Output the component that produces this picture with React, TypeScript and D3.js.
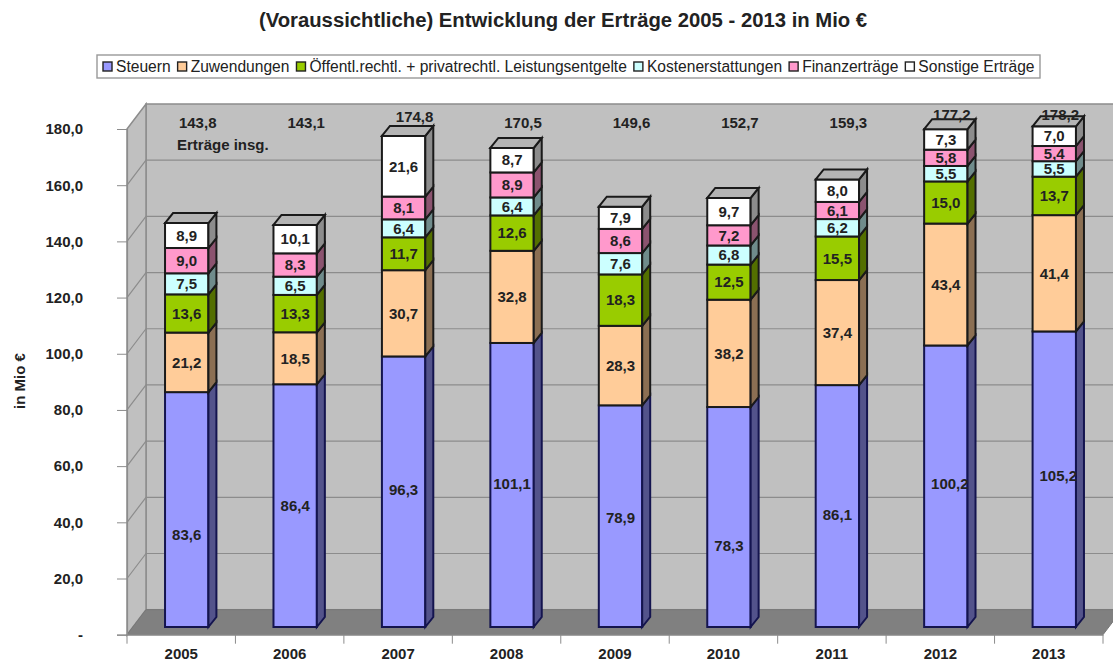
import React, { useEffect, useRef } from 'react';
import * as d3 from 'd3';

const TITLE = '(Voraussichtliche) Entwicklung der Erträge 2005 - 2013 in Mio €';
const YEARS = ['2005', '2006', '2007', '2008', '2009', '2010', '2011', '2012', '2013'];
const TOTALS = [143.8, 143.1, 174.8, 170.5, 149.6, 152.7, 159.3, 177.2, 178.2];

const SERIES_NAMES = [
  'Steuern',
  'Zuwendungen',
  'Öffentl.rechtl. + privatrechtl. Leistungsentgelte',
  'Kostenerstattungen',
  'Finanzerträge',
  'Sonstige Erträge',
];
const STEUERN = [83.6, 86.4, 96.3, 101.1, 78.9, 78.3, 86.1, 100.2, 105.2];
const ZUWENDUNGEN = [21.2, 18.5, 30.7, 32.8, 28.3, 38.2, 37.4, 43.4, 41.4];
const LEISTUNGEN = [13.6, 13.3, 11.7, 12.6, 18.3, 12.5, 15.5, 15.0, 13.7];
const KOSTEN = [7.5, 6.5, 6.4, 6.4, 7.6, 6.8, 6.2, 5.5, 5.5];
const FINANZ = [9.0, 8.3, 8.1, 8.9, 8.6, 7.2, 6.1, 5.8, 5.4];
const SONSTIGE = [8.9, 10.1, 21.6, 8.7, 7.9, 9.7, 8.0, 7.3, 7.0];
const ALL_SERIES = [STEUERN, ZUWENDUNGEN, LEISTUNGEN, KOSTEN, FINANZ, SONSTIGE];

const COLORS = ['#9999ff', '#ffcc99', '#99cc00', '#ccffff', '#ff99cc', '#ffffff'];
const STROKES = ['#14144f', '#1a1a1a', '#1a1a1a', '#1a1a1a', '#1a1a1a', '#1a1a1a'];

// the Steuern labels sit wherever somebody dragged them, value height
const STEUERN_LABEL_AT = [33, 43, 49, 51, 39, 29, 40, 51, 54];

const WIDTH = 1113;
const HEIGHT = 664;
const FONT = '"Liberation Sans", Arial, sans-serif';
const WALL_DX = 19;
const WALL_DY = -25;
const BAR_DX = 8;
const BAR_DY = -10;
const BAR_SHIFT_X = 5.5;
const BAR_SHIFT_Y = -7.7;

const fmt = (v: number) => v.toFixed(1).replace('.', ',');

export default function App() {
  const ref = useRef<SVGSVGElement>(null);

  useEffect(() => {
    const svg = d3.select(ref.current);
    svg.selectAll('*').remove();

    const x = d3.scaleBand().domain(YEARS).range([127, 1103]);
    const y = d3.scaleLinear().domain([0, 180]).range([634.7, 129]);
    const yTop = y(180);
    const y0 = y(0);
    const xL = 127;
    const xR = 1103;

    // back wall, side wall, floor
    const plot = svg.append('g');
    plot.append('rect')
      .attr('x', xL + WALL_DX).attr('y', yTop + WALL_DY)
      .attr('width', xR - xL).attr('height', y0 - yTop)
      .attr('fill', '#c0c0c0').attr('stroke', '#8c8c8c').attr('stroke-width', 1.5);
    plot.append('path')
      .attr('d', `M${xL},${yTop}L${xL + WALL_DX},${yTop + WALL_DY}V${y0 + WALL_DY}L${xL},${y0}Z`)
      .attr('fill', '#c0c0c0').attr('stroke', '#8c8c8c').attr('stroke-width', 1.5);

    const grid = y.ticks(9);
    plot.selectAll('path.grid').data(grid.filter((d) => d > 0 && d < 180)).join('path')
      .attr('class', 'grid')
      .attr('d', (d) => `M${xL},${y(d)}L${xL + WALL_DX},${y(d) + WALL_DY}H${xR + WALL_DX}`)
      .attr('fill', 'none').attr('stroke', '#8c8c8c').attr('stroke-width', 1.2);

    plot.append('path')
      .attr('d', `M${xL},${y0}L${xL + WALL_DX},${y0 + WALL_DY}H${xR + WALL_DX}L${xR},${y0}Z`)
      .attr('fill', '#808080').attr('stroke', '#777');

    // axes
    const yAxis = d3.axisLeft(y)
      .tickValues(grid)
      .tickSize(10)
      .tickPadding(34)
      .tickFormat((d) => (+d === 0 ? '-' : fmt(+d)));
    const gy = svg.append('g').attr('transform', `translate(${xL},0)`).call(yAxis);
    const xAxis = d3.axisBottom(x).tickSize(0).tickPadding(14);
    const gx = svg.append('g').attr('transform', `translate(0,${y0})`).call(xAxis);
    gx.selectAll('line.sep').data(d3.range(YEARS.length + 1)).join('line')
      .attr('class', 'sep')
      .attr('x1', (i) => xL + i * x.step()).attr('x2', (i) => xL + i * x.step())
      .attr('y1', 0).attr('y2', 9)
      .attr('stroke', '#8c8c8c');
    for (const g of [gy, gx]) {
      g.select('.domain').attr('stroke', '#8c8c8c').attr('stroke-width', 1.2);
      g.selectAll('.tick line').attr('stroke', '#8c8c8c');
      g.selectAll('text')
        .attr('font-family', FONT).attr('font-size', 15)
        .attr('font-weight', 'bold').attr('fill', '#222');
    }

    // stacked 3d bars
    const rows = YEARS.map((year, i) => {
      const row: Record<string, number | string> = { year };
      SERIES_NAMES.forEach((n, s) => { row[n] = ALL_SERIES[s][i]; });
      return row;
    });
    const stacked = d3.stack<any>().keys(SERIES_NAMES)(rows);
    const barX = d3.scaleBand().domain(YEARS).range([127, 1103]).paddingInner(0.6).paddingOuter(0.3);
    const bw = barX.bandwidth();
    const px = (year: string) => (x(year) as number) + (x.bandwidth() - bw) / 2 + BAR_SHIFT_X;
    const py = (v: number) => y(v) + BAR_SHIFT_Y;

    stacked.forEach((layer, s) => {
      const g = svg.append('g');
      const color = d3.color(COLORS[s]) as d3.RGBColor;
      const side = s === 5 ? '#8c8c8c' : color.darker(1.7).toString();
      const top = '#b4b4b4';
      layer.forEach((d: any) => {
        const year = d.data.year as string;
        const x0 = px(year);
        const a = py(d[0]);
        const b = py(d[1]);
        g.append('rect')
          .attr('x', x0).attr('y', b).attr('width', bw).attr('height', a - b)
          .attr('fill', COLORS[s]).attr('stroke', STROKES[s]).attr('stroke-width', 2);
        g.append('path')
          .attr('d', `M${x0 + bw},${a}V${b}l${BAR_DX},${BAR_DY}V${a + BAR_DY}Z`)
          .attr('fill', side).attr('stroke', STROKES[s]).attr('stroke-width', 2);
        if (s === SERIES_NAMES.length - 1) {
          g.append('path')
            .attr('d', `M${x0},${b}l${BAR_DX},${BAR_DY}h${bw}l${-BAR_DX},${-BAR_DY}Z`)
            .attr('fill', top).attr('stroke', STROKES[s]).attr('stroke-width', 2);
        }
      });
    });

    // value labels
    const labels = svg.append('g')
      .attr('font-family', FONT).attr('font-size', 15).attr('font-weight', 'bold')
      .attr('fill', '#222').attr('text-anchor', 'middle');
    stacked.forEach((layer, s) => {
      layer.forEach((d: any, i: number) => {
        const mid = s === 0 ? STEUERN_LABEL_AT[i] : (d[0] + d[1]) / 2;
        labels.append('text')
          .attr('x', px(d.data.year) + bw / 2 + (s === 0 && i >= 7 ? 4 : 0))
          .attr('y', py(mid))
          .attr('dy', '0.35em')
          .text(fmt(ALL_SERIES[s][i]));
      });
    });

    // totals above the plot
    labels.selectAll('text.total').data(TOTALS).join('text')
      .attr('class', 'total')
      .attr('x', (_, i) => px(YEARS[i]) + bw / 2 + (i >= 7 ? 6 : 11))
      .attr('y', (_, i) => (i >= 7 ? 115 : i === 2 ? 117 : 123))
      .attr('dy', '0.35em')
      .text((d) => fmt(d));
    labels.append('text').attr('x', 177).attr('y', 145).attr('dy', '0.35em')
      .attr('text-anchor', 'start').text('Erträge insg.');

    // legend
    const legend = svg.append('g').attr('font-family', FONT).attr('font-size', 15.6).attr('fill', '#222');
    legend.append('rect').attr('x', 97).attr('y', 55).attr('width', 943).attr('height', 23)
      .attr('fill', '#fff').attr('stroke', '#999').attr('stroke-width', 1.4);
    let cursor = 103;
    SERIES_NAMES.forEach((name, s) => {
      legend.append('rect').attr('x', cursor).attr('y', 62).attr('width', 9).attr('height', 9)
        .attr('fill', COLORS[s]).attr('stroke', '#222').attr('stroke-width', 1.4);
      const t = legend.append('text').attr('x', cursor + 13).attr('y', 72).text(name);
      cursor += 13 + (t.node() as SVGTextElement).getComputedTextLength() + 7;
    });

    // titles
    svg.append('text').attr('x', 563).attr('y', 27).attr('text-anchor', 'middle')
      .attr('font-family', FONT).attr('font-size', 20.3).attr('font-weight', 'bold').attr('fill', '#222')
      .text(TITLE);
    svg.append('text').attr('transform', 'translate(25,381) rotate(-90)').attr('text-anchor', 'middle')
      .attr('font-family', FONT).attr('font-size', 15).attr('font-weight', 'bold').attr('fill', '#222')
      .text('in Mio €');
  }, []);

  return (
    <svg
      ref={ref}
      width={WIDTH}
      height={HEIGHT}
      style={{ position: 'absolute', left: 0, top: 0, background: '#fff' }}
    />
  );
}
